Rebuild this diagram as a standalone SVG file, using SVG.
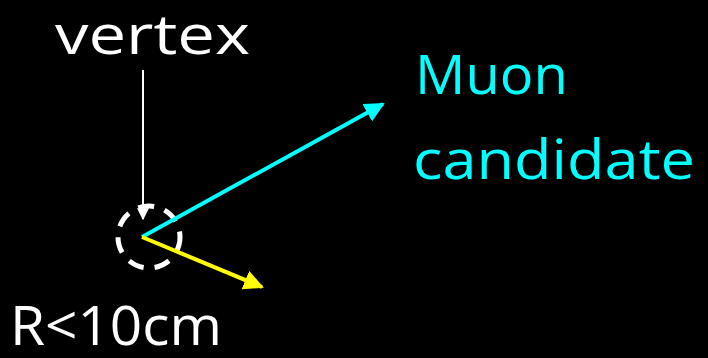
<svg xmlns="http://www.w3.org/2000/svg" width="708" height="358" viewBox="0 0 708 358">
<defs>
<style>
.t{font-family:"Comic Sans MS","Open Sans","DejaVu Sans",sans-serif;font-size:55px}
</style>
<marker id="aw" viewBox="0 0 10 10" refX="9" refY="5" markerWidth="6" markerHeight="6" markerUnits="strokeWidth" orient="auto"><path d="M0,0L10,5L0,10z" fill="#fff"/></marker>
<marker id="ac" viewBox="0 0 10 10" refX="9" refY="5" markerWidth="5" markerHeight="5" markerUnits="strokeWidth" orient="auto"><path d="M0,0L10,5L0,10z" fill="#0ff"/></marker>
<marker id="ay" viewBox="0 0 10 10" refX="9" refY="5" markerWidth="5" markerHeight="5" markerUnits="strokeWidth" orient="auto"><path d="M0,0L10,5L0,10z" fill="#ff0"/></marker>
</defs>
<rect width="708" height="358" fill="#000"/>
<g id="vertex-region">
<circle cx="149" cy="237" r="31" fill="none" stroke="#fff" stroke-width="5" stroke-dasharray="16 11"/>
</g>
<g id="connectors">
<line x1="143" y1="70" x2="143" y2="219" stroke="#fff" stroke-width="2" marker-end="url(#aw)"/>
<line x1="142" y1="237" x2="383" y2="104" stroke="#0ff" stroke-width="4" marker-end="url(#ac)"/>
<line x1="142" y1="237" x2="262" y2="287" stroke="#ff0" stroke-width="4" marker-end="url(#ay)"/>
</g>
<g id="labels">
<text class="t" x="55" y="54" fill="#fff" textLength="195" lengthAdjust="spacingAndGlyphs">vertex</text>
<text class="t" x="415" y="94" fill="#0ff" textLength="153" lengthAdjust="spacingAndGlyphs">Muon</text>
<text class="t" x="413" y="179" fill="#0ff" textLength="282" lengthAdjust="spacingAndGlyphs">candidate</text>
<text class="t" x="10" y="345" fill="#fff" textLength="212" lengthAdjust="spacingAndGlyphs">R&lt;10cm</text>
</g>
</svg>
